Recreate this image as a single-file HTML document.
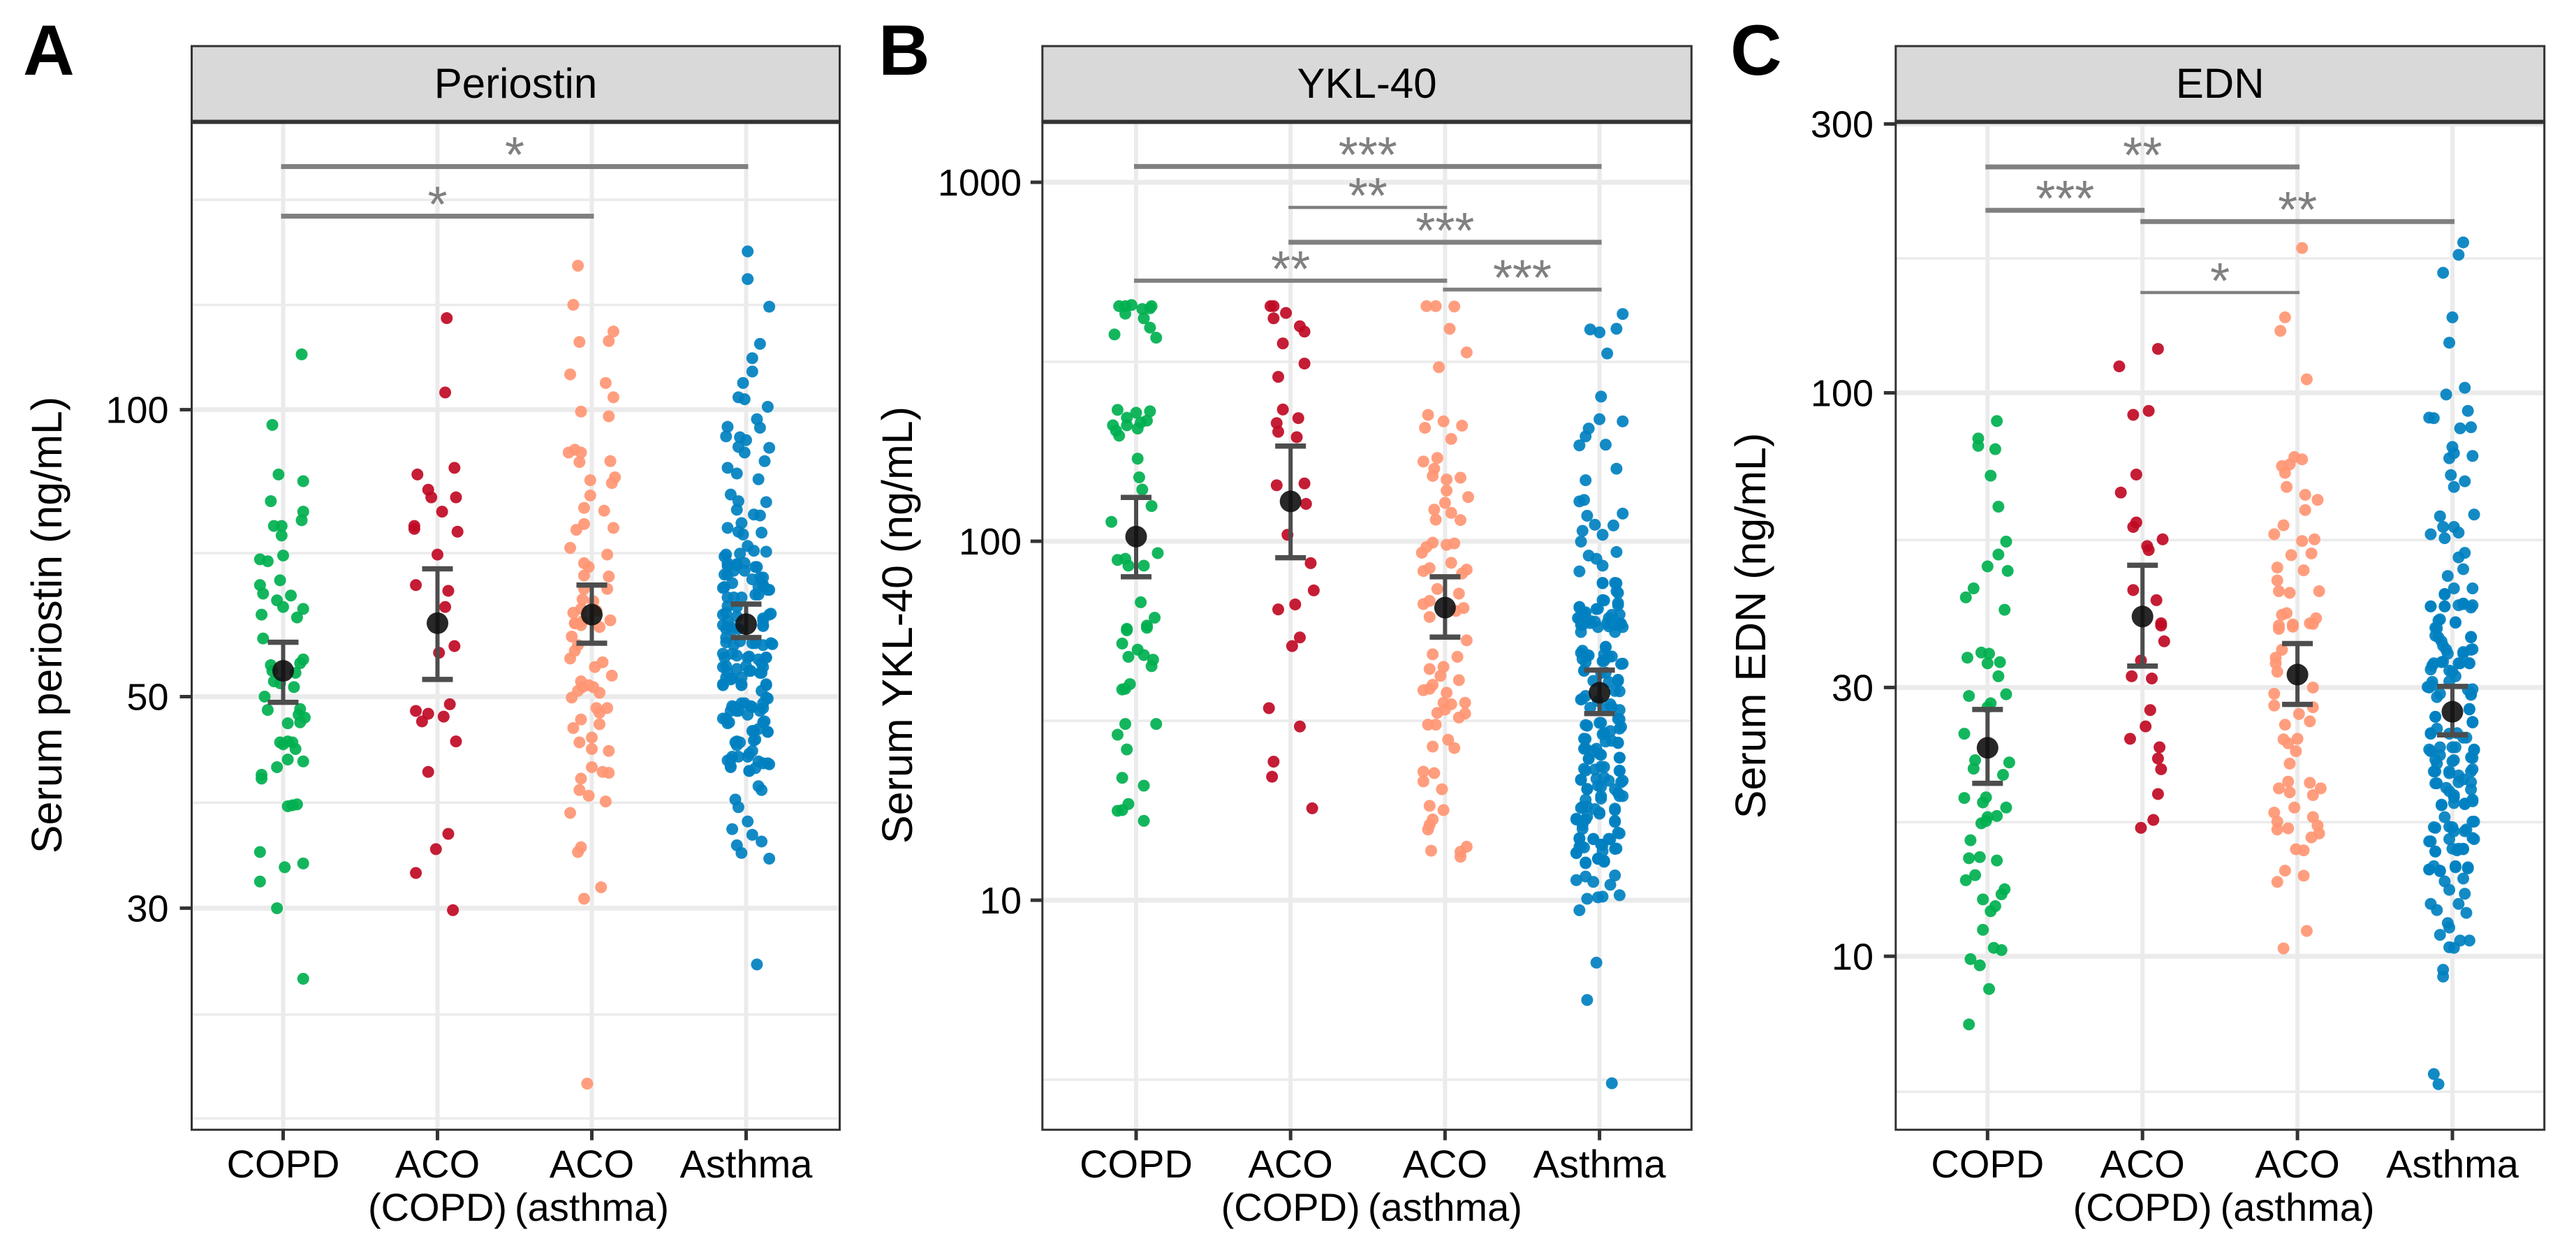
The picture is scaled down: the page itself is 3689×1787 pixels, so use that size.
<!DOCTYPE html>
<html lang="en">
<head>
<meta charset="utf-8">
<title>Serum periostin, YKL-40 and EDN by patient group</title>
<style>
html,body{margin:0;padding:0;background:#fff;}
svg{display:block;font-family:"Liberation Sans",sans-serif;}
</style>
</head>
<body>
<svg id="figure" xmlns="http://www.w3.org/2000/svg" width="3689" height="1787" viewBox="0 0 3689 1787">
<rect x="0" y="0" width="3689" height="1787" fill="#fff"/>
<g id="panel-A"></g>
<g id="panel-B"></g>
<g id="panel-C"></g>
<text x="33" y="107" font-size="102" font-weight="700">A</text>
<text x="1258" y="107" font-size="102" font-weight="700">B</text>
<text x="2478" y="107" font-size="102" font-weight="700">C</text>
<text transform="translate(88 895) rotate(-90)" text-anchor="middle" font-size="61">Serum periostin (ng/mL)</text>
<text transform="translate(1306 895) rotate(-90)" text-anchor="middle" font-size="61">Serum YKL-40 (ng/mL)</text>
<text transform="translate(2528 896) rotate(-90)" text-anchor="middle" font-size="61">Serum EDN (ng/mL)</text>
</svg>
<script>
// Categories and tick labels
const categories = [["COPD"], ["ACO", "(COPD)"], ["ACO", "(asthma)"], ["Asthma"]];
const groupNames = ["copd", "aco-copd", "aco-asthma", "asthma"];
const periostinTicks = [100, 50, 30];
const periostinMinorTicks = [166, 128.8, 70.7, 38.7, 23.2, 18.05];
const yklTicks = [1000, 100, 10];
const yklMinorTicks = [316, 31.6, 3.16];
const ednTicks = [300, 100, 30, 10];
const ednMinorTicks = [173.2, 54.8, 17.3, 5.75];

// Every observation: [jitter as % of category spacing, 1000*log10(ng/mL)]
const periostinCOPD = [[12,2058],[-7,1984],[-3,1932],[13,1925],[-8,1904],[13,1893],[12,1884],[-6,1878],[-1,1878],[-1,1868],[0,1847],[-15,1843],[-10,1841],[-2,1821],[-15,1816],[-13,1807],[5,1805],[-4,1800],[0,1793],[13,1791],[-14,1785],[9,1782],[-13,1760],[13,1738],[11,1734],[-8,1732],[-7,1726],[8,1724],[-6,1715],[-2,1713],[7,1709],[-12,1699],[-10,1685],[11,1686],[10,1680],[14,1677],[11,1672],[3,1671],[-2,1651],[3,1652],[6,1651],[0,1649],[8,1644],[3,1633],[13,1631],[-4,1625],[-14,1617],[-14,1613],[9,1586],[3,1584],[6,1585],[-15,1536],[13,1524],[1,1520],[-15,1505],[-4,1477],[13,1403]];
const periostinACOCOPD = [[6,2096],[5,2018],[11,1939],[-13,1932],[-6,1916],[-4,1908],[12,1908],[3,1893],[-15,1878],[-15,1875],[13,1872],[0,1848],[-14,1816],[7,1810],[5,1793],[11,1752],[1,1745],[8,1691],[-14,1684],[-6,1681],[-10,1673],[4,1678],[12,1652],[-6,1620],[7,1555],[-1,1539],[-14,1514],[10,1475]];
const periostinACOAsthma = [[-9,2151],[-12,2110],[14,2082],[11,2072],[-8,2071],[-14,2037],[9,2028],[14,2013],[-7,1998],[11,1993],[-11,1958],[-15,1955],[-7,1955],[-8,1945],[12,1946],[-1,1926],[15,1929],[13,1923],[-1,1910],[-5,1897],[8,1894],[-5,1880],[-10,1874],[14,1876],[-14,1855],[10,1848],[-5,1839],[-2,1835],[-5,1826],[11,1825],[-5,1812],[10,1812],[-6,1801],[1,1799],[-7,1791],[-12,1787],[3,1789],[12,1779],[-11,1776],[-6,1778],[-11,1776],[-7,1774],[5,1772],[-13,1762],[-9,1753],[-11,1747],[-14,1739],[7,1735],[2,1730],[13,1721],[-7,1715],[-6,1709],[-2,1711],[1,1709],[5,1703],[-13,1698],[-9,1705],[3,1687],[10,1687],[5,1682],[-7,1675],[5,1670],[-12,1666],[-8,1651],[0,1656],[0,1644],[11,1642],[0,1625],[7,1620],[11,1619],[-7,1613],[-8,1601],[-2,1595],[9,1589],[-14,1577],[-7,1541],[-9,1536],[6,1499],[-5,1487],[-3,1293]];
const periostinAsthma = [[1,2166],[1,2137],[15,2108],[9,2069],[4,2054],[4,2040],[-2,2028],[-5,2013],[-1,2011],[14,2003],[7,1990],[9,1981],[-12,1982],[-13,1972],[-4,1971],[0,1968],[-5,1961],[-1,1955],[15,1960],[12,1946],[-12,1939],[-6,1933],[8,1927],[-10,1911],[-5,1904],[-6,1895],[13,1903],[5,1890],[9,1889],[-12,1876],[-3,1881],[-5,1872],[-2,1869],[10,1871],[1,1857],[13,1851],[5,1852],[-13,1848],[-4,1849],[-12,1839],[-6,1837],[-1,1839],[7,1835],[-12,1827],[-8,1831],[9,1824],[-1,1831],[-14,1814],[8,1814],[14,1811],[11,1816],[6,1806],[-8,1803],[-13,1787],[-6,1793],[15,1785],[11,1781],[-12,1778],[-6,1783],[-15,1774],[-10,1772],[11,1774],[-5,1770],[-13,1761],[17,1754],[4,1755],[-8,1753],[11,1753],[-14,1740],[13,1740],[-6,1742],[1,1740],[8,1738],[-15,1730],[-6,1728],[11,1730],[2,1726],[-13,1719],[-3,1719],[9,1724],[-15,1711],[-3,1711],[13,1711],[-10,1717],[13,1698],[11,1692],[-8,1688],[-1,1692],[4,1688],[-5,1684],[-10,1684],[9,1684],[-13,1676],[-12,1671],[1,1680],[12,1673],[8,1665],[4,1663],[14,1662],[-6,1652],[6,1654],[-6,1648],[4,1642],[-10,1633],[-5,1636],[1,1636],[-10,1626],[8,1631],[15,1628],[11,1629],[2,1621],[7,1418],[-14,1846],[-12,1836],[-6,1838],[6,1835],[-14,1827],[11,1824],[4,1822],[-9,1818],[-15,1813],[11,1816],[15,1811],[-12,1803],[-3,1803],[8,1806],[-12,1794],[-15,1785],[16,1786],[11,1779],[-13,1770],[-9,1769],[11,1773],[-13,1756],[-4,1757],[6,1755],[16,1755],[-15,1744],[-9,1744],[2,1741],[13,1740],[-13,1731],[0,1731],[10,1734],[-12,1724],[3,1726],[10,1724],[-15,1712],[-3,1712],[-9,1718],[13,1712],[10,1705],[14,1697],[-3,1692],[-9,1689],[3,1689],[-6,1684],[11,1687],[-15,1676],[-11,1672],[11,1672],[5,1663],[14,1662],[5,1653],[-7,1651],[-4,1651],[-9,1636],[2,1639],[-12,1632],[14,1629],[6,1624],[2,1621],[-10,1625],[8,1605],[10,1601],[-7,1591],[-5,1583],[1,1568],[-9,1560],[4,1554],[10,1547],[-6,1543],[-3,1535],[15,1529]];
const periostinMeans = [1726, 1776, 1785, 1775];
const periostinUpper = [1756, 1833, 1816, 1796];
const periostinLower = [1693, 1717, 1755, 1761];
const periostinBrackets = [[0, 3, 2255, "*"], [0, 2, 2203, "*"]];

const yklCOPD = [[-11,2655],[-3,2658],[-7,2655],[10,2655],[9,2649],[-7,2634],[4,2647],[5,2621],[9,2595],[-14,2576],[13,2567],[-12,2366],[9,2362],[0,2358],[-6,2344],[7,2336],[3,2331],[-6,2323],[-15,2323],[-13,2308],[1,2314],[-11,2294],[1,2230],[2,2178],[4,2144],[10,2098],[-16,2054],[14,1967],[-12,1948],[-7,1951],[-5,1932],[5,1932],[3,1830],[12,1787],[7,1765],[-6,1756],[-6,1752],[7,1759],[-9,1715],[1,1698],[-5,1678],[5,1683],[11,1670],[10,1652],[-4,1602],[-9,1587],[-7,1589],[-7,1491],[13,1491],[-12,1461],[-6,1420],[-9,1341],[5,1319],[-5,1268],[-12,1249],[-9,1251],[5,1221]];
const yklACOCOPD = [[-13,2655],[-11,2655],[-3,2636],[-11,2621],[6,2599],[9,2584],[-5,2551],[9,2495],[-8,2458],[-5,2367],[5,2343],[-9,2329],[-8,2305],[4,2290],[-9,2156],[9,2161],[10,2104],[-2,2018],[13,1939],[15,1863],[3,1824],[-8,1810],[6,1732],[1,1708],[-14,1535],[6,1484],[-11,1386],[-12,1344],[14,1256]];
const yklACOAsthma = [[-12,2655],[-6,2655],[6,2654],[3,2592],[14,2526],[-4,2485],[-11,2352],[-1,2334],[11,2322],[-13,2316],[4,2285],[-14,2222],[-5,2232],[-7,2202],[-8,2182],[1,2172],[10,2177],[1,2141],[15,2123],[0,2107],[-7,2088],[4,2079],[-6,2060],[10,2059],[-8,1996],[-12,1984],[1,1990],[6,1994],[-15,1968],[4,1940],[-10,1925],[-14,1917],[14,1921],[11,1910],[-5,1867],[9,1854],[-14,1825],[-10,1834],[12,1814],[-10,1789],[7,1806],[14,1724],[-8,1685],[8,1678],[-1,1650],[-10,1644],[-3,1625],[9,1613],[-8,1600],[-14,1585],[-10,1589],[1,1578],[13,1550],[-1,1550],[4,1546],[-5,1522],[0,1531],[13,1520],[9,1509],[-11,1489],[-6,1489],[2,1447],[-8,1428],[6,1424],[-14,1358],[-7,1354],[-14,1331],[-2,1309],[-10,1263],[-1,1251],[-8,1225],[-10,1210],[-11,1197],[-9,1138],[14,1149],[10,1135],[10,1121]];
const yklAsthma = [[15,2633],[-6,2590],[0,2582],[11,2592],[5,2523],[1,2403],[0,2340],[15,2334],[-7,2314],[-9,2292],[-13,2267],[4,2269],[11,2202],[-9,2170],[-13,2111],[-10,2115],[15,2077],[-8,2071],[-3,2046],[9,2044],[-11,2029],[2,2018],[-12,1999],[11,1970],[-7,1960],[-2,1951],[2,1932],[-13,1916],[2,1884],[10,1884],[12,1856],[2,1836],[12,1822],[-13,1817],[-2,1811],[-10,1800],[8,1795],[-13,1784],[-6,1778],[5,1772],[13,1772],[-11,1767],[10,1767],[-6,1772],[-1,1761],[15,1761],[-11,1695],[-8,1683],[4,1706],[-11,1672],[15,1659],[3,1667],[6,1678],[-10,1639],[1,1633],[12,1611],[-11,1561],[10,1583],[-1,1555],[8,1538],[-8,1486],[12,1505],[1,1494],[14,1483],[3,1466],[8,1444],[12,1438],[-10,1450],[-2,1422],[-10,1422],[13,1397],[-7,1394],[1,1405],[13,1360],[-10,1366],[1,1372],[-12,1336],[-2,1338],[15,1333],[6,1333],[1,1316],[-8,1310],[12,1299],[15,1290],[1,1283],[-11,1260],[10,1255],[-15,1227],[-8,1233],[0,1244],[10,1221],[-11,1210],[12,1188],[-13,1171],[-4,1171],[6,1171],[1,1155],[-13,1149],[10,1143],[-15,1132],[-1,1116],[3,1110],[-9,1105],[-2,826],[-8,722],[8,490],[2,1883],[11,1883],[11,1861],[3,1835],[-1,1812],[12,1828],[-13,1815],[-9,1802],[-14,1786],[13,1796],[6,1786],[-3,1776],[-12,1767],[14,1770],[6,1763],[-12,1747],[10,1747],[4,1705],[-12,1689],[-7,1682],[8,1679],[3,1685],[-9,1663],[2,1666],[14,1658],[-10,1640],[4,1634],[-4,1611],[12,1614],[6,1608],[13,1582],[-9,1569],[-12,1559],[-6,1536],[7,1546],[13,1530],[3,1533],[-9,1488],[0,1494],[13,1504],[13,1478],[2,1462],[7,1471],[-9,1449],[4,1442],[12,1439],[-9,1423],[-4,1416],[0,1407],[-7,1394],[13,1397],[-9,1361],[-3,1364],[3,1371],[13,1361],[-12,1335],[3,1342],[14,1329],[-8,1309],[-1,1319],[10,1309],[1,1290],[13,1290],[-9,1280],[-12,1257],[-8,1261],[-3,1254],[0,1241],[10,1251],[-15,1225],[-9,1225],[10,1218],[-11,1199],[-13,1173],[13,1186],[-4,1170],[7,1170],[-12,1150],[2,1154],[11,1144],[-15,1131],[-10,1147],[2,1137],[-1,1115],[3,1107],[-9,1103],[10,1069],[-15,1056],[-9,1066],[-4,1051],[7,1043],[13,1014],[-8,1004],[-1,1008],[2,1010],[-13,972]];
const yklMeans = [2013, 2111, 1815, 1578];
const yklUpper = [2122, 2265, 1901, 1641];
const yklLower = [1901, 1954, 1733, 1520];
const yklBrackets = [[0, 3, 3044, "***"], [1, 2, 2930, "**"], [1, 3, 2833, "***"], [0, 2, 2726, "**"], [2, 3, 2701, "***"]];

const ednCOPD = [[6,1950],[-6,1919],[-6,1906],[5,1900],[2,1853],[7,1798],[12,1736],[7,1713],[0,1692],[13,1684],[-9,1653],[-14,1637],[11,1615],[-4,1539],[1,1537],[-13,1530],[8,1522],[0,1520],[7,1497],[12,1465],[-12,1462],[2,1449],[0,1442],[-15,1395],[-8,1348],[14,1344],[-9,1333],[10,1322],[-15,1281],[-1,1282],[-3,1273],[12,1264],[6,1249],[0,1247],[-4,1236],[-1,1240],[-11,1206],[-5,1176],[-12,1174],[6,1170],[-8,1144],[-14,1135],[11,1119],[9,1110],[-3,1101],[5,1089],[2,1080],[-3,1047],[4,1015],[9,1011],[-11,995],[-5,984],[1,942],[-12,879]];
const ednACOCOPD = [[10,2078],[-15,2047],[-6,1961],[4,1968],[-4,1855],[-14,1823],[-4,1770],[-6,1762],[13,1740],[3,1728],[4,1721],[-6,1650],[9,1632],[12,1591],[12,1587],[14,1559],[-1,1525],[-7,1497],[6,1493],[5,1437],[2,1408],[-8,1386],[11,1371],[10,1351],[12,1332],[10,1288],[7,1242],[-1,1228]];
const ednACOAsthma = [[3,2257],[-8,2134],[-11,2110],[6,2024],[-2,1886],[3,1882],[-10,1870],[-5,1873],[-8,1858],[-7,1833],[5,1819],[13,1810],[5,1792],[-9,1765],[-15,1749],[3,1737],[11,1740],[-4,1712],[9,1715],[-13,1690],[4,1685],[-13,1667],[-12,1648],[-5,1645],[14,1648],[-10,1606],[-7,1609],[12,1600],[-12,1587],[-3,1589],[8,1591],[-12,1581],[-3,1585],[10,1590],[-10,1544],[-14,1530],[-14,1520],[-13,1505],[10,1477],[-15,1466],[-15,1445],[10,1442],[1,1430],[8,1417],[-8,1411],[-9,1385],[0,1386],[-6,1378],[-1,1364],[-5,1342],[-6,1310],[-12,1298],[-5,1291],[8,1308],[15,1298],[10,1286],[-2,1264],[-15,1255],[-13,1239],[-13,1225],[-6,1227],[10,1247],[13,1232],[9,1211],[14,1218],[-1,1190],[4,1188],[-8,1152],[-13,1132],[4,1143],[6,1045],[-9,1014]];
const ednAsthma = [[7,2267],[4,2245],[-6,2213],[0,2134],[-2,2089],[8,2009],[-4,1997],[10,1968],[-15,1956],[-12,1955],[5,1937],[12,1939],[0,1904],[1,1893],[-2,1884],[13,1888],[-1,1854],[8,1843],[1,1833],[14,1784],[-8,1781],[-6,1762],[1,1762],[4,1752],[-14,1749],[-5,1742],[8,1716],[4,1708],[7,1687],[-3,1675],[1,1653],[13,1653],[-5,1643],[-14,1621],[-5,1621],[7,1626],[12,1619],[-9,1596],[2,1593],[-11,1583],[-9,1566],[12,1567],[-6,1551],[12,1544],[7,1537],[-3,1537],[5,1520],[11,1520],[-13,1516],[-6,1523],[0,1505],[-13,1481],[-15,1477],[12,1466],[10,1473],[-2,1488],[11,1438],[-11,1425],[13,1415],[-14,1395],[-2,1395],[7,1388],[14,1366],[-14,1364],[-8,1371],[0,1371],[-11,1349],[12,1353],[0,1346],[-11,1328],[-2,1325],[12,1328],[7,1314],[-10,1307],[-2,1293],[12,1296],[1,1282],[13,1275],[-7,1269],[8,1271],[-5,1247],[14,1239],[0,1229],[-12,1229],[9,1225],[14,1208],[-15,1204],[-2,1208],[-11,1186],[3,1188],[7,1190],[10,1158],[-15,1154],[-8,1151],[2,1158],[-12,791],[-9,773],[-14,1621],[-5,1621],[4,1623],[7,1625],[13,1623],[-5,1642],[-8,1598],[2,1592],[-10,1582],[-11,1569],[-7,1559],[12,1566],[-4,1544],[7,1540],[13,1545],[-12,1520],[-7,1522],[4,1520],[11,1520],[-2,1507],[-14,1509],[2,1497],[-13,1487],[-16,1478],[13,1474],[-8,1466],[-10,1460],[12,1464],[11,1439],[-11,1425],[13,1416],[-10,1404],[-14,1396],[3,1396],[9,1388],[-15,1367],[2,1371],[14,1367],[-8,1357],[13,1352],[1,1348],[-10,1342],[-12,1328],[-2,1328],[4,1321],[13,1332],[-11,1307],[12,1309],[-4,1299],[4,1309],[1,1286],[13,1278],[-7,1268],[1,1272],[8,1270],[-11,1228],[-2,1230],[1,1222],[8,1222],[13,1239],[13,1210],[-14,1204],[-11,1186],[0,1191],[4,1191],[7,1191],[2,1160],[10,1156],[-15,1154],[-12,1160],[-8,1152],[7,1138],[-5,1133],[-2,1118],[8,1111],[4,1093],[-14,1093],[-10,1082],[9,1077],[-3,1059],[-2,1051],[-8,1038],[-2,1016],[1,1015],[5,1028],[11,1028],[-6,976],[-6,964]];
const ednMeans = [1370, 1603, 1500, 1434];
const ednUpper = [1438, 1694, 1555, 1479];
const ednLower = [1307, 1515, 1447, 1393];
const ednBrackets = [[0, 2, 2401, "**"], [0, 1, 2324, "***"], [1, 3, 2304, "**"], [1, 2, 2178, "*"]];

const NS = "http://www.w3.org/2000/svg";
const GROUP_COLORS = ["#00b04f", "#c00a24", "#ff9673", "#0080c0"];

function make(parent, tag, attrs, txt) {
  const node = document.createElementNS(NS, tag);
  for (const k in attrs) node.setAttribute(k, attrs[k]);
  if (txt !== undefined) node.textContent = txt;
  parent.appendChild(node);
  return node;
}

function drawPanel(cfg) {
  const root = document.getElementById(cfg.id);
  const TOP = 174.5, BOTTOM = 1617.7, STRIP_TOP = 66;
  const xScale = (cat, jitter) => cfg.x0 + (cat + (jitter || 0) / 100) * cfg.step;
  const yScale = milliLog => cfg.anchorY + (2000 - milliLog) * cfg.pxPerMilli;
  const tickY = v => yScale(1000 * Math.log10(v));
  let el;

  cfg.minor.forEach(v => {
    el = make(root, "line", {x1: cfg.left, x2: cfg.right, y1: tickY(v), y2: tickY(v), stroke: "#ebebeb", "stroke-width": 3.5});
    
    
  });
  cfg.ticks.forEach(v => {
    el = make(root, "line", {x1: cfg.left, x2: cfg.right, y1: tickY(v), y2: tickY(v), stroke: "#ebebeb", "stroke-width": 7});
    
    
  });
  categories.forEach((lines, c) => {
    el = make(root, "line", {x1: xScale(c), x2: xScale(c), y1: TOP, y2: BOTTOM, stroke: "#ebebeb", "stroke-width": 6});
    
    
  });

  cfg.series.forEach((points, c) => {
    points.forEach(p => {
      el = make(root, "circle", {cx: xScale(c, p[0]), cy: yScale(p[1]), r: 8.5, fill: GROUP_COLORS[c], "fill-opacity": 0.92});
      
      
    });
  });

  cfg.means.forEach((m, c) => {
    const cx = xScale(c), yu = yScale(cfg.upper[c]), yl = yScale(cfg.lower[c]);
    el = make(root, "line", {x1: cx, x2: cx, y1: yu, y2: yl, stroke: "#4d4d4d", "stroke-width": 6});
    
    
    el = make(root, "path", {d: `M${cx - 22} ${yu}H${cx + 22}M${cx - 22} ${yl}H${cx + 22}`, fill: "none", stroke: "#4d4d4d", "stroke-width": 7.5});
    
    
    el = make(root, "circle", {cx: cx, cy: yScale(m), r: 15.5, fill: "#111", "fill-opacity": 0.9});
    
    
  });

  cfg.brackets.forEach((b, i) => {
    const y = yScale(b[2]);
    el = make(root, "line", {x1: xScale(b[0]) - 3, x2: xScale(b[1]) + 3, y1: y, y2: y, stroke: "#808080", "stroke-width": cfg.bracketWidths[i]});
    
    
    el = make(root, "text", {x: (xScale(b[0]) + xScale(b[1])) / 2, y: y + 8, "text-anchor": "middle", "font-size": 72, fill: "#808080"}, b[3]);
    
    
  });

  el = make(root, "rect", {x: cfg.left, y: TOP, width: cfg.right - cfg.left, height: BOTTOM - TOP, fill: "none", stroke: "#333", "stroke-width": 3});
  
  
  el = make(root, "rect", {x: cfg.left, y: STRIP_TOP, width: cfg.right - cfg.left, height: TOP - STRIP_TOP, fill: "#d9d9d9", stroke: "#333", "stroke-width": 3});
  
  
  el = make(root, "line", {x1: cfg.left, x2: cfg.right, y1: TOP, y2: TOP, stroke: "#333", "stroke-width": 6});
  
  
  el = make(root, "text", {x: (cfg.left + cfg.right) / 2, y: 140, "text-anchor": "middle", "font-size": 60, fill: "#000"}, cfg.title);
  
  

  cfg.ticks.forEach(v => {
    el = make(root, "line", {x1: cfg.left - 17, x2: cfg.left, y1: tickY(v), y2: tickY(v), stroke: "#333", "stroke-width": 5});
    
    
    el = make(root, "text", {x: cfg.labelX, y: tickY(v) + 19, "text-anchor": "end", "font-size": 54, fill: "#000"}, String(v));
    
    
  });
  categories.forEach((lines, c) => {
    el = make(root, "line", {x1: xScale(c), x2: xScale(c), y1: BOTTOM, y2: BOTTOM + 15, stroke: "#333", "stroke-width": 5});
    
    
    lines.forEach((line, i) => {
      el = make(root, "text", {x: xScale(c), y: 1686 + i * 62, "text-anchor": "middle", "font-size": 56, fill: "#000"}, line);
      
      
    });
  });
}

drawPanel({id: "panel-A", title: "Periostin", left: 274.5, right: 1202.5, x0: 405.5, step: 221, anchorY: 586.6, pxPerMilli: 1.365, labelX: 241.5,
  ticks: periostinTicks, minor: periostinMinorTicks, series: [periostinCOPD, periostinACOCOPD, periostinACOAsthma, periostinAsthma],
  means: periostinMeans, upper: periostinUpper, lower: periostinLower, brackets: periostinBrackets, bracketWidths: [7, 7]});
drawPanel({id: "panel-B", title: "YKL-40", left: 1492.8, right: 2422.3, x0: 1627, step: 221.2, anchorY: 775, pxPerMilli: 0.514, labelX: 1463,
  ticks: yklTicks, minor: yklMinorTicks, series: [yklCOPD, yklACOCOPD, yklACOAsthma, yklAsthma],
  means: yklMeans, upper: yklUpper, lower: yklLower, brackets: yklBrackets, bracketWidths: [7, 4.5, 7, 6, 5.5]});
drawPanel({id: "panel-C", title: "EDN", left: 2714.8, right: 3643.7, x0: 2846.3, step: 221.9, anchorY: 562.5, pxPerMilli: 0.8068, labelX: 2683,
  ticks: ednTicks, minor: ednMinorTicks, series: [ednCOPD, ednACOCOPD, ednACOAsthma, ednAsthma],
  means: ednMeans, upper: ednUpper, lower: ednLower, brackets: ednBrackets, bracketWidths: [7, 7, 7, 4.5]});
</script>
</body>
</html>
